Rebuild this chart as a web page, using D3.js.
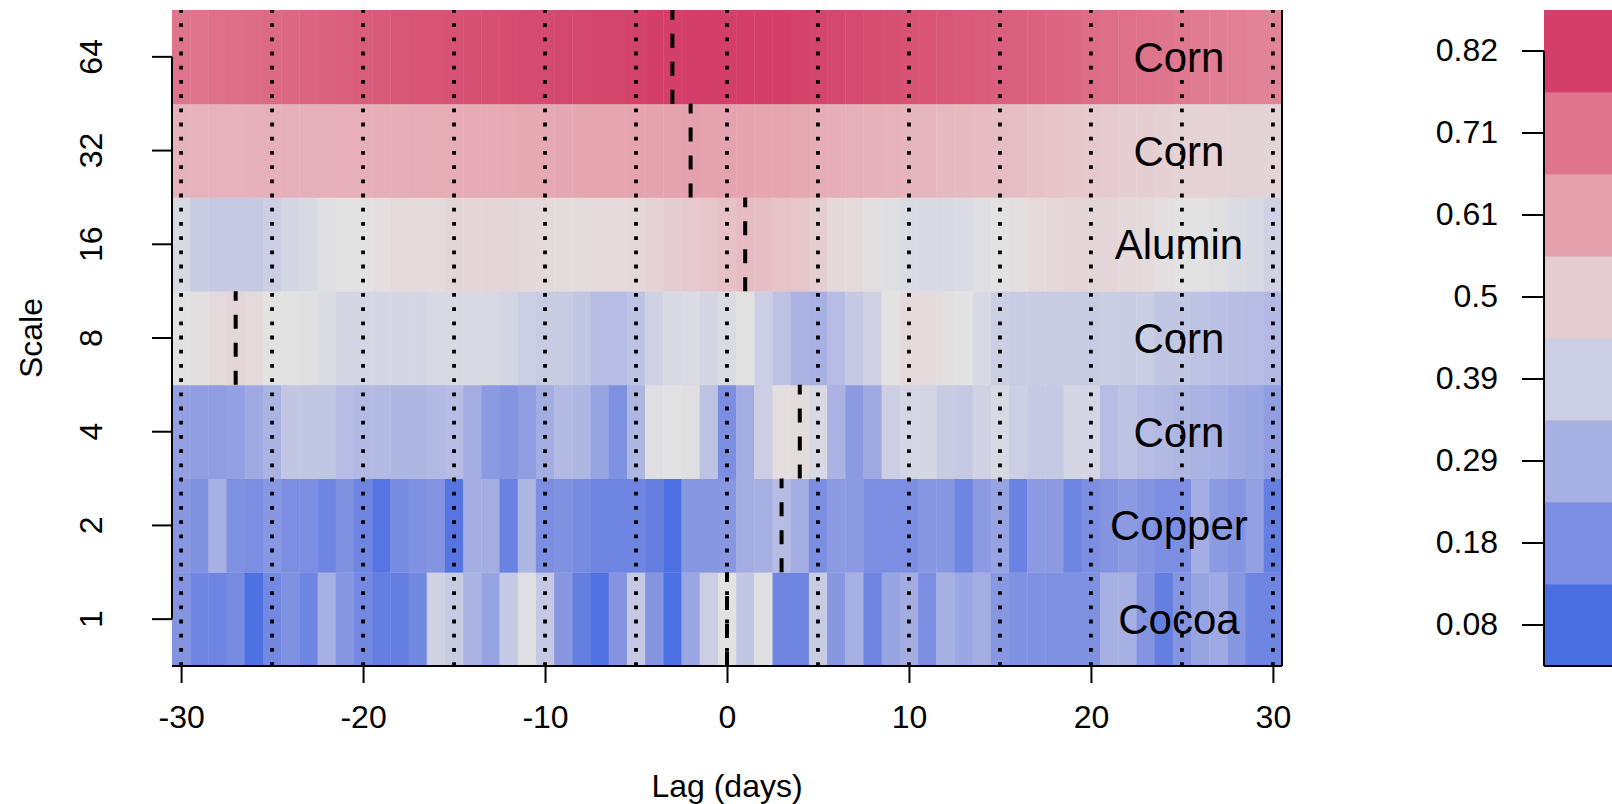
<!DOCTYPE html>
<html>
<head>
<meta charset="utf-8">
<script src="https://cdn.jsdelivr.net/npm/d3@7"></script>
<style>
  body { margin: 0; background: #fff; }
  svg { display: block; font-family: "Liberation Sans", Arial, sans-serif; }
</style>
</head>
<body>
<svg id="chart" width="1612" height="804"></svg>
<script>
// lags (days) on the x axis, wavelet scales on the y axis
const lags = [-30,-29,-28,-27,-26,-25,-24,-23,-22,-21,-20,-19,-18,-17,-16,-15,-14,-13,-12,-11,
  -10,-9,-8,-7,-6,-5,-4,-3,-2,-1,0,1,2,3,4,5,6,7,8,9,10,11,12,13,14,15,16,17,18,19,20,
  21,22,23,24,25,26,27,28,29,30];
const scales = [1, 2, 4, 8, 16, 32, 64];
const bestMatch = ["Cocoa", "Copper", "Corn", "Corn", "Alumin", "Corn", "Corn"];
const bestLag = [0, 3, 4, -27, 1, -2, -3];

// correlation per lag, one array per scale
const corrS1 = [0.20,0.15,0.15,0.17,0.085,0.16,0.19,0.15,0.29,0.21,0.16,0.13,0.13,0.16,0.40,0.38,0.30,0.25,0.37,0.44,
  0.37,0.21,0.13,0.09,0.20,0.37,0.20,0.085,0.26,0.39,0.45,0.36,0.44,0.15,0.15,0.38,0.21,0.29,0.15,0.25,
  0.28,0.18,0.29,0.26,0.28,0.21,0.19,0.19,0.19,0.19,0.19,0.29,0.29,0.20,0.13,0.20,0.25,0.27,0.21,0.15,0.15];
const corrS2 = [0.21,0.19,0.29,0.19,0.18,0.21,0.18,0.18,0.15,0.19,0.15,0.10,0.17,0.19,0.20,0.10,0.28,0.28,0.14,0.31,
  0.18,0.19,0.17,0.15,0.15,0.15,0.13,0.085,0.21,0.21,0.21,0.28,0.29,0.33,0.28,0.18,0.22,0.22,0.18,0.18,
  0.18,0.21,0.21,0.15,0.22,0.25,0.14,0.22,0.22,0.15,0.18,0.20,0.22,0.20,0.18,0.18,0.28,0.22,0.20,0.24,0.13];
const corrS4 = [0.24,0.23,0.23,0.24,0.27,0.30,0.36,0.36,0.36,0.33,0.32,0.32,0.31,0.31,0.32,0.33,0.28,0.22,0.20,0.23,
  0.28,0.32,0.31,0.25,0.19,0.31,0.44,0.45,0.44,0.35,0.18,0.28,0.39,0.46,0.465,0.42,0.30,0.22,0.27,0.39,
  0.41,0.41,0.38,0.37,0.40,0.42,0.39,0.37,0.37,0.41,0.41,0.33,0.35,0.33,0.32,0.31,0.30,0.29,0.27,0.26,0.23];
const corrS8 = [0.45,0.46,0.47,0.48,0.47,0.45,0.45,0.44,0.43,0.41,0.41,0.41,0.41,0.41,0.42,0.42,0.42,0.42,0.41,0.39,
  0.38,0.38,0.36,0.33,0.33,0.35,0.40,0.42,0.43,0.41,0.43,0.45,0.39,0.35,0.30,0.29,0.33,0.37,0.40,0.45,
  0.47,0.47,0.46,0.45,0.42,0.39,0.38,0.38,0.38,0.38,0.38,0.385,0.38,0.385,0.36,0.36,0.35,0.34,0.335,0.33,0.32];
const corrS16 = [0.42,0.38,0.37,0.37,0.37,0.39,0.41,0.42,0.44,0.45,0.45,0.46,0.47,0.47,0.47,0.48,0.48,0.48,0.48,0.475,
  0.47,0.465,0.465,0.47,0.47,0.475,0.49,0.50,0.51,0.52,0.53,0.545,0.535,0.525,0.52,0.50,0.475,0.47,0.46,0.44,
  0.43,0.42,0.42,0.43,0.44,0.45,0.46,0.47,0.475,0.48,0.48,0.48,0.475,0.47,0.46,0.45,0.45,0.44,0.43,0.42,0.40];
const corrS32 = [0.565,0.565,0.566,0.567,0.568,0.57,0.57,0.571,0.572,0.573,0.574,0.575,0.577,0.578,0.579,0.58,0.582,0.584,0.586,0.588,
  0.59,0.592,0.594,0.596,0.598,0.60,0.602,0.604,0.606,0.604,0.602,0.60,0.598,0.594,0.588,0.58,0.576,0.572,0.568,0.564,
  0.56,0.556,0.552,0.548,0.544,0.54,0.534,0.528,0.522,0.516,0.51,0.506,0.502,0.498,0.494,0.49,0.489,0.488,0.487,0.486,0.485];
const corrS64 = [0.71,0.715,0.72,0.725,0.73,0.735,0.74,0.745,0.75,0.76,0.765,0.77,0.775,0.78,0.78,0.785,0.79,0.79,0.795,0.80,
  0.80,0.805,0.805,0.81,0.81,0.815,0.82,0.83,0.825,0.825,0.825,0.825,0.825,0.82,0.815,0.81,0.805,0.80,0.795,0.79,
  0.785,0.78,0.775,0.77,0.765,0.76,0.755,0.75,0.745,0.74,0.73,0.725,0.72,0.715,0.71,0.70,0.695,0.69,0.685,0.68,0.675];

const legendValues = [0.08, 0.18, 0.29, 0.39, 0.5, 0.61, 0.71, 0.82];
const xTicks = [-30, -20, -10, 0, 10, 20, 30];
const guideLags = [-30, -25, -20, -15, -10, -5, 0, 5, 10, 15, 20, 25, 30];

const rows = [corrS1, corrS2, corrS4, corrS8, corrS16, corrS32, corrS64];

// polar LUV -> hex (same space as R colorspace HCL)
function luvHex(L, C, H) {
  const h = H * Math.PI / 180, u = C * Math.cos(h), v = C * Math.sin(h);
  const Xn = 95.047, Yn = 100, Zn = 108.883;
  const d = Xn + 15 * Yn + 3 * Zn, un = 4 * Xn / d, vn = 9 * Yn / d;
  const Y = L > 8 ? Yn * Math.pow((L + 16) / 116, 3) : Yn * L / 903.3;
  const up = u / (13 * L) + un, vp = v / (13 * L) + vn;
  const X = 9 * Y * up / (4 * vp);
  const Z = 3 * Y / vp - X / 3 - 5 * Y;
  const lin = [
    (3.240479 * X - 1.537150 * Y - 0.498535 * Z) / 100,
    (-0.969256 * X + 1.875992 * Y + 0.041556 * Z) / 100,
    (0.055648 * X - 0.204043 * Y + 1.057311 * Z) / 100
  ];
  const [r, g, b] = lin.map(c => {
    const s = c <= 0.0031308 ? 12.92 * c : 1.055 * Math.pow(c, 1 / 2.4) - 0.055;
    return Math.round(255 * Math.max(0, Math.min(1, s)));
  });
  return d3.rgb(r, g, b).formatHex();
}

// diverging blue-red palette
const pos = d3.scaleLinear().domain(d3.extent(legendValues)).range([-1, 1]).clamp(true);
function color(v) {
  const i = pos(v), a = Math.abs(i);
  return luvHex(90 - 40 * a, 100 * a, i < 0 ? 260 : 0);
}

const plotLeft = 172, plotRight = 1282, plotTop = 10, plotBottom = 666;
const svg = d3.select("#chart");

const x = d3.scaleLinear().domain([-30.5, 30.5]).range([plotLeft, plotRight]);
const y = d3.scaleBand().domain(scales).range([plotBottom, plotTop]);

// heat cells
const rowG = svg.append("g").selectAll("g")
  .data(scales)
  .join("g");

rowG.selectAll("rect")
  .data((s, i) => rows[i].map((v, j) => ({ s, lag: lags[j], v })))
  .join("rect")
  .attr("x", d => x(d.lag - 0.5))
  .attr("width", d => x(d.lag + 0.5) - x(d.lag - 0.5) + 0.4)
  .attr("y", d => y(d.s))
  .attr("height", y.bandwidth() + 0.4)
  .attr("fill", d => color(d.v));

// best match name per row
svg.append("g").selectAll("text")
  .data(scales)
  .join("text")
  .attr("x", x(25) - 3)
  .attr("y", s => y(s) + y.bandwidth() / 2 + 15)
  .attr("text-anchor", "middle")
  .style("font-size", "42px")
  .attr("fill", "#000")
  .text((s, i) => bestMatch[i]);

// dotted guides every 5 days
svg.append("g").selectAll("line")
  .data(guideLags)
  .join("line")
  .attr("x1", d => x(d)).attr("x2", d => x(d))
  .attr("y1", plotBottom).attr("y2", plotTop)
  .attr("stroke", "#000")
  .attr("stroke-width", 3.8)
  .attr("stroke-dasharray", "3.8 10.4");

// dashed line at the lag of the best match
svg.append("g").selectAll("line")
  .data(scales)
  .join("line")
  .attr("x1", (s, i) => x(bestLag[i])).attr("x2", (s, i) => x(bestLag[i]))
  .attr("y1", s => y(s) + y.bandwidth()).attr("y2", s => y(s))
  .attr("stroke", "#000")
  .attr("stroke-width", 4)
  .attr("stroke-dasharray", "14 14");

// frame
svg.append("line").attr("x1", plotLeft).attr("x2", plotRight).attr("y1", plotBottom).attr("y2", plotBottom)
  .attr("stroke", "#000").attr("stroke-width", 2);
svg.append("line").attr("x1", plotRight).attr("x2", plotRight).attr("y1", plotTop).attr("y2", plotBottom)
  .attr("stroke", "#000").attr("stroke-width", 2);

// x axis
const xAxis = svg.append("g")
  .attr("transform", `translate(0,${plotBottom})`)
  .call(d3.axisBottom(x).tickValues(xTicks).tickSize(17).tickPadding(22).tickFormat(d => d));
xAxis.select(".domain").remove();
xAxis.selectAll("line").attr("stroke-width", 2);
xAxis.selectAll("text").style("font-size", "32px").attr("fill", "#000").style("font-family", "inherit");

svg.append("text")
  .attr("x", (plotLeft + plotRight) / 2)
  .attr("y", 797)
  .attr("text-anchor", "middle")
  .style("font-size", "32px")
  .text("Lag (days)");

// y axis
const yAxis = svg.append("g")
  .attr("transform", `translate(${plotLeft},0)`)
  .call(d3.axisLeft(y).tickSize(20));
yAxis.select(".domain").remove();
yAxis.selectAll("line").attr("stroke-width", 2);
yAxis.selectAll("text")
  .attr("transform", "rotate(-90)")
  .attr("x", 0).attr("y", -70).attr("dy", 0)
  .style("text-anchor", "middle")
  .style("font-size", "32px")
  .style("font-family", "inherit")
  .attr("fill", "#000");
yAxis.append("line")
  .attr("x1", 0).attr("x2", 0)
  .attr("y1", y(64) + y.bandwidth() / 2).attr("y2", y(1) + y.bandwidth() / 2)
  .attr("stroke", "#000").attr("stroke-width", 2);

svg.append("text")
  .attr("transform", `translate(42,${(plotTop + plotBottom) / 2}) rotate(-90)`)
  .attr("text-anchor", "middle")
  .style("font-size", "32px")
  .text("Scale");

// colour legend
const legLeft = 1544;
const ly = d3.scaleBand().domain(legendValues).range([plotBottom, plotTop]);
svg.append("g").selectAll("rect")
  .data(legendValues)
  .join("rect")
  .attr("x", legLeft)
  .attr("width", 80)
  .attr("y", d => ly(d))
  .attr("height", ly.bandwidth() + 0.4)
  .attr("fill", d => color(d));

const legAxis = svg.append("g")
  .attr("transform", `translate(${legLeft},0)`)
  .call(d3.axisLeft(ly).tickSize(22).tickPadding(24).tickFormat(d => String(d)));
legAxis.select(".domain").remove();
legAxis.selectAll("line").attr("stroke-width", 2);
legAxis.selectAll("text").style("font-size", "32px").style("font-family", "inherit").attr("fill", "#000");
legAxis.append("line")
  .attr("x1", 0).attr("x2", 0)
  .attr("y1", ly(0.82) + ly.bandwidth() / 2).attr("y2", plotBottom)
  .attr("stroke", "#000").attr("stroke-width", 2);
svg.append("line").attr("x1", legLeft).attr("x2", 1612).attr("y1", plotBottom).attr("y2", plotBottom)
  .attr("stroke", "#000").attr("stroke-width", 2);
</script>
</body>
</html>
